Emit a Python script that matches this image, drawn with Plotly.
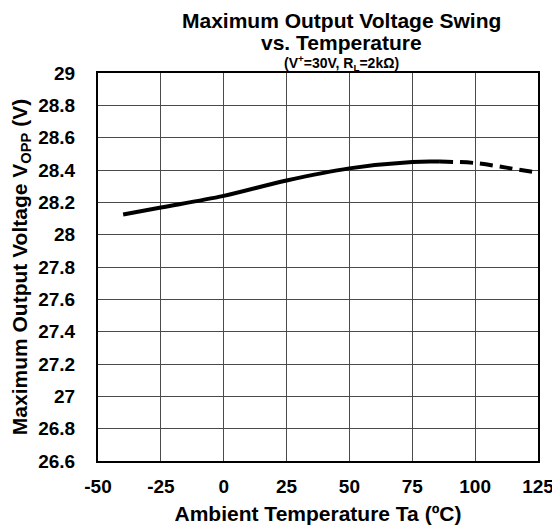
import plotly.graph_objects as go

# Data
temp_solid = [-40, -25, 0, 25, 50, 75, 86]
vopp_solid = [28.125, 28.168, 28.24, 28.335, 28.41, 28.45, 28.452]
temp_dash = [86, 100, 113, 125]
vopp_dash = [28.452, 28.443, 28.413, 28.383]

x_ticks = [-50, -25, 0, 25, 50, 75, 100, 125]
y_ticks = [26.6, 26.8, 27, 27.2, 27.4, 27.6, 27.8, 28, 28.2, 28.4, 28.6, 28.8, 29]

FONT = "Liberation Sans, Arial, sans-serif"
BOLD = dict(family=FONT, color="black", weight="bold")

fig = go.Figure()
fig.add_trace(go.Scatter(x=temp_solid, y=vopp_solid, mode="lines",
                         line=dict(color="black", width=4, shape="spline", smoothing=1),
                         showlegend=False))
fig.add_trace(go.Scatter(x=temp_dash, y=vopp_dash, mode="lines",
                         line=dict(color="black", width=4, dash="13px,7px", shape="spline", smoothing=1),
                         showlegend=False))

# page body has an 8px margin, so margins are shifted to compensate
TX = 0.554
fig.update_layout(
    width=552, height=524,
    margin=dict(l=90, r=21.5, t=65, b=71),
    paper_bgcolor="white", plot_bgcolor="white",
    font=dict(family=FONT, color="black"),
    annotations=[
        dict(text="Maximum Output Voltage Swing", x=TX, y=1, xref="paper", yref="paper",
             xanchor="center", yanchor="bottom", yshift=40, showarrow=False, borderpad=0,
             font=dict(size=21, **BOLD)),
        dict(text="vs. Temperature", x=TX, y=1, xref="paper", yref="paper",
             xanchor="center", yanchor="bottom", yshift=18, showarrow=False, borderpad=0,
             font=dict(size=21, **BOLD)),
        dict(text="(V<sup>+</sup>=30V, R<sub>L</sub>=2kΩ)", x=TX, y=1, xref="paper", yref="paper",
             xanchor="center", yanchor="bottom", yshift=-1, showarrow=False, borderpad=0,
             font=dict(size=14, **BOLD)),
    ],
)

fig.update_xaxes(
    range=[-50, 125], tickvals=x_ticks, ticktext=[str(v) for v in x_ticks],
    showgrid=True, gridcolor="#4a4a4a", gridwidth=1,
    showline=True, linecolor="black", linewidth=2, mirror=True,
    ticks="", ticklabelstandoff=7, zeroline=False, automargin=False,
    tickfont=dict(size=19, **BOLD),
    title=dict(text="Ambient Temperature Ta (ºC)", font=dict(size=21, **BOLD), standoff=11),
)
fig.update_yaxes(
    range=[26.6, 29], tickvals=y_ticks, ticktext=[f"{v:g}" for v in y_ticks],
    showgrid=True, gridcolor="#4a4a4a", gridwidth=1,
    showline=True, linecolor="black", linewidth=2, mirror=True,
    ticks="", ticklabelstandoff=17, zeroline=False, automargin=False,
    tickfont=dict(size=19, **BOLD),
    title=dict(text="Maximum Output Voltage V<sub>OPP</sub> (V)", font=dict(size=21, **BOLD), standoff=8),
)

fig.write_html("out.html")
